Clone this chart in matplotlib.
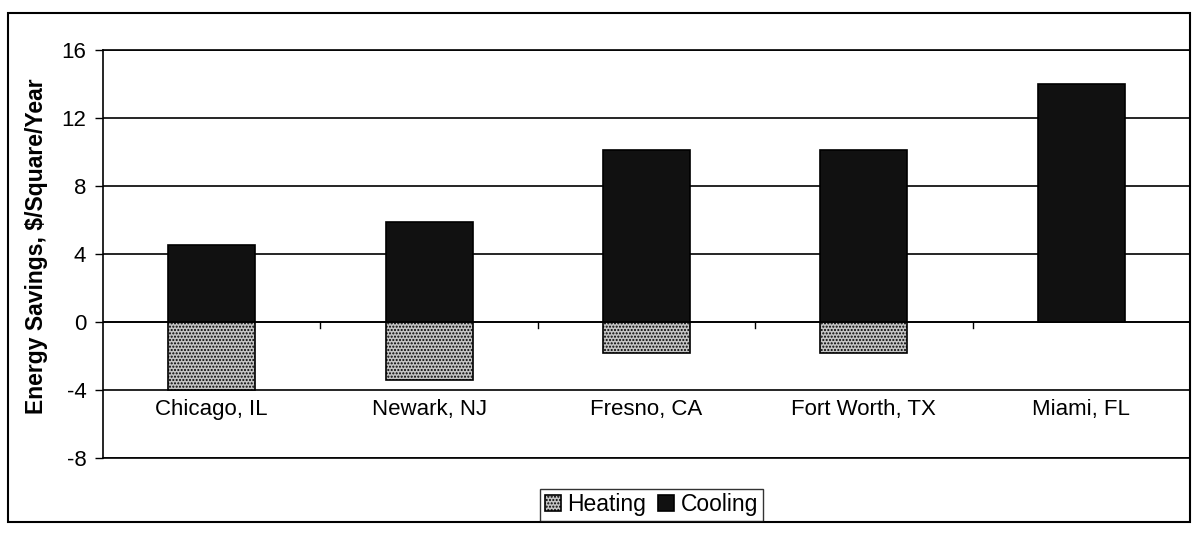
import numpy as np
from matplotlib import pyplot as plt
from matplotlib.patches import Rectangle

plt.rcParams['font.family'] = ['Liberation Sans', 'DejaVu Sans']

cities = ['Chicago, IL', 'Newark, NJ', 'Fresno, CA', 'Fort Worth, TX', 'Miami, FL']
heating = [-4.0, -3.4, -1.8, -1.8, 0.0]
cooling = [4.5, 5.9, 10.1, 10.1, 14.0]
yticks = [-8, -4, 0, 4, 8, 12, 16]

fig = plt.figure(figsize=(11.93, 5.37), dpi=100)
ax = fig.add_axes([0.0863, 0.147, 0.9112, 0.76])

x = np.arange(len(cities))
w = 0.4
ax.bar(x, heating, w, color='#c4c4c4', edgecolor='black', hatch='.....',
       linewidth=1.2, label='Heating', zorder=3)
ax.bar(x, cooling, w, color='#111111', edgecolor='black',
       linewidth=1.2, label='Cooling', zorder=3)

ax.set_xlim(-0.5, len(cities) - 0.5)
ax.set_ylim(-8, 16)
ax.set_yticks(yticks)
ax.set_yticklabels([str(t) for t in yticks], fontsize=16)
ax.yaxis.grid(True, color='black', linewidth=1.2, zorder=0)
ax.tick_params(axis='y', length=6, width=1, direction='out', pad=6)

# category axis sits on zero, labels low
ax.set_xticks([])
ax.axhline(0, color='black', linewidth=1.2, zorder=2)
for b in np.arange(0.5, len(cities) - 0.5):
    ax.plot([b, b], [0, -0.35], color='black', linewidth=1, zorder=2)
for i, c in enumerate(cities):
    ax.text(i, -4.5, c, ha='center', va='top', fontsize=16)

for s in ['top', 'bottom', 'left', 'right']:
    ax.spines[s].set_linewidth(1.2)

ax.set_ylabel('Energy Savings, $/Square/Year', fontsize=16.5, fontweight='bold')
ax.yaxis.set_label_coords(-0.051, 0.52)

leg = fig.legend(loc='center', bbox_to_anchor=(0.546, 0.06), ncol=2, fontsize=16.5,
                 frameon=True, fancybox=False, edgecolor='black', handlelength=0.7,
                 handleheight=0.7, handletextpad=0.3, columnspacing=0.5,
                 borderpad=0.2)
leg.get_frame().set_linewidth(1)

# outer chart border
fig.patches.append(Rectangle((8 / 1193, 1 - 522 / 537), 1182 / 1193, 509 / 537,
                             transform=fig.transFigure, fill=False,
                             edgecolor='black', linewidth=1.5))

fig.savefig('out.png', dpi=100)
